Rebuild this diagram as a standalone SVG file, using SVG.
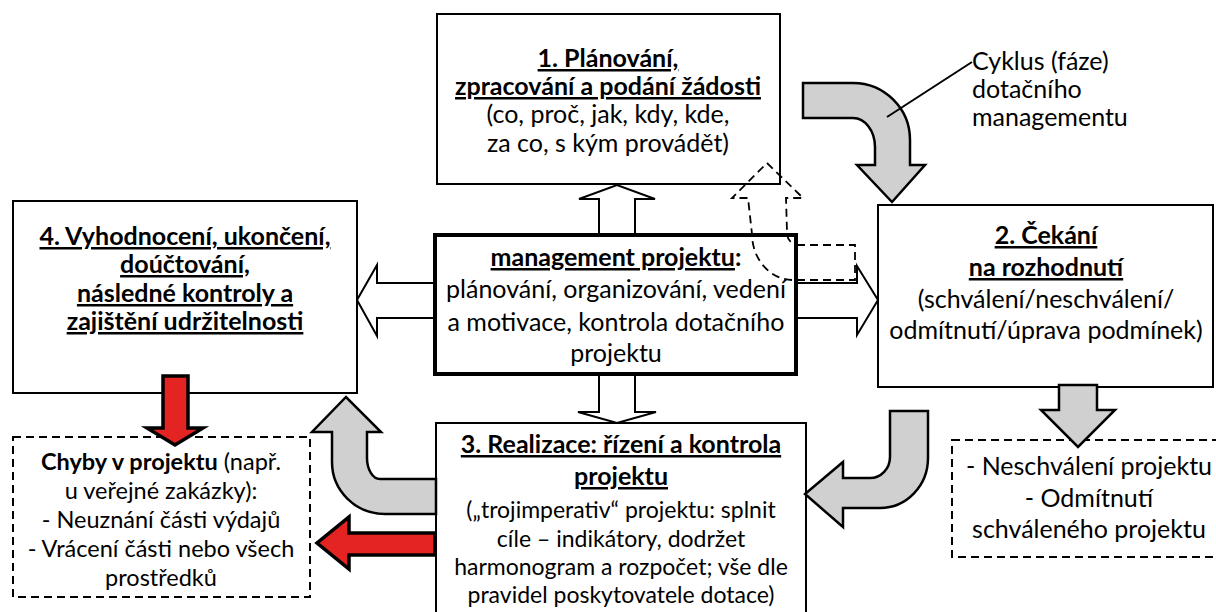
<svg xmlns="http://www.w3.org/2000/svg" width="1216" height="612" viewBox="0 0 1216 612">
  <style>
    text { font-family: Lato, "Liberation Sans", sans-serif; font-size: 25px; fill: #000; text-anchor: middle; }
    .b { font-weight: bold; }
    .u { text-decoration: underline; }
    .s { font-size: 23px; }
    .m { font-size: 23.5px; }
    .l { text-anchor: start; }
    .box { fill: #fff; stroke: #000; stroke-width: 2; }
    .main { fill: #fff; stroke: #000; stroke-width: 4; }
    .dash { fill: #fff; stroke: #000; stroke-width: 2; stroke-dasharray: 8 5; }
    .hollow { fill: #fff; stroke: #000; stroke-width: 2; stroke-linejoin: miter; }
    .grey { fill: #d0d0d0; stroke: #000; stroke-width: 2.5; stroke-linejoin: miter; }
    .red { fill: #e32422; stroke: #000; stroke-width: 3.5; stroke-linejoin: miter; }
    .dashline { fill: none; stroke: #000; stroke-width: 1.8; stroke-dasharray: 8 5; }
  </style>

  <!-- phase boxes -->
  <g id="phase1">
    <rect class="box" x="437" y="14" width="343" height="170"/>
    <text x="608" y="67" class="b u">1. Plánování,</text>
    <text x="608" y="95" class="b u">zpracování a podání žádosti</text>
    <text x="608" y="123">(co, proč, jak, kdy, kde,</text>
    <text x="608" y="152">za co, s kým provádět)</text>
  </g>

  <g id="phase2">
    <rect class="box" x="878" y="205" width="335" height="182"/>
    <text x="1046" y="244" class="b u">2. Čekání</text>
    <text x="1046" y="276" class="b u">na rozhodnutí</text>
    <text x="1046" y="308">(schválení/neschválení/</text>
    <text x="1046" y="339">odmítnutí/úprava podmínek)</text>
  </g>

  <g id="phase4">
    <rect class="box" x="13" y="201" width="344" height="192"/>
    <text x="185" y="245" class="b u">4. Vyhodnocení, ukončení,</text>
    <text x="185" y="273" class="b u">doúčtování,</text>
    <text x="185" y="302" class="b u">následné kontroly a</text>
    <text x="185" y="330" class="b u">zajištění udržitelnosti</text>
  </g>

  <g id="phase3">
    <rect class="box" x="436" y="423" width="370" height="200"/>
    <text x="621" y="453" class="b u">3. Realizace: řízení a kontrola</text>
    <text x="621" y="485" class="b u">projektu</text>
    <text x="621" y="518" class="s">(„trojimperativ“ projektu: splnit</text>
    <text x="621" y="547" class="s">cíle – indikátory, dodržet</text>
    <text x="621" y="575" class="s">harmonogram a rozpočet; vše dle</text>
    <text x="621" y="603" class="s">pravidel poskytovatele dotace)</text>
  </g>

  <g id="errors">
    <rect class="dash" x="13" y="437" width="297" height="160"/>
    <text x="161" y="470" class="m"><tspan class="b">Chyby v projektu</tspan> (např.</text>
    <text x="161" y="499" class="m">u veřejné zakázky):</text>
    <text x="161" y="528" class="m">- Neuznání části výdajů</text>
    <text x="161" y="557" class="m">- Vrácení části nebo všech</text>
    <text x="161" y="586" class="m">prostředků</text>
  </g>

  <g id="rejection">
    <rect class="dash" x="952" y="440" width="280" height="117"/>
    <text x="1089" y="475">- Neschválení projektu</text>
    <text x="1089" y="507">- Odmítnutí</text>
    <text x="1089" y="538">schváleného projektu</text>
  </g>

  <!-- connectors -->
  <g id="connectors">
    <!-- hollow arrows out of the management box -->
    <polygon class="hollow" points="599,236 599,199 579,199 617,185 655,199 635,199 635,236"/>
    <polygon class="hollow" points="599,373 599,412 578,412 617,423 656,412 635,412 635,373"/>
    <polygon class="hollow" points="436,283 377,283 377,265 357,300 377,336 377,318 436,318"/>
    <polygon class="hollow" points="795,283 857,283 857,266 878,300 857,335 857,318 795,318"/>

    <!-- grey cycle arrows -->
    <path class="grey" d="M803 83 L853 83 A57 57 0 0 1 910 140 L910 165 L925 165 L892 202 L857 165 L875 165 L875 147 A22 29 0 0 0 853 118 L803 118 Z"/>
    <path class="grey" d="M890 411 L928 411 L928 458 A48 50 0 0 1 880 508 L843 508 L843 527 L805 494 L843 462 L843 478 L870 478 A20 21 0 0 0 890 457 Z"/>
    <path class="grey" d="M436 479 L380 479 A13 21 0 0 1 367 458 L367 432 L381 432 L346 397 L312 432 L332 432 L332 462 A53 52 0 0 0 385 514 L436 514 Z"/>
    <polygon class="grey" points="1059,385 1059,410 1041,410 1078,447 1115,410 1097,410 1097,385"/>

    <!-- red error arrows -->
    <polygon class="red" points="163,376 163,428 147,428 175,445 203,428 188,428 188,376"/>
    <polygon class="red" points="435,533 349,533 349,517 317,543 349,569 349,555 435,555"/>
  </g>

  <g id="management">
    <rect class="main" x="435" y="235" width="361" height="139"/>
    <text x="616" y="266"><tspan class="b u">management projektu</tspan><tspan class="b">:</tspan></text>
    <text x="616" y="298">plánování, organizování, vedení</text>
    <text x="616" y="331">a motivace, kontrola dotačního</text>
    <text x="616" y="362">projektu</text>
  </g>

  <!-- optional return path back to phase 1 -->
  <g id="return-arrow">
    <path class="dashline" d="M797 245 L855 245 L855 280 L793 280 A41 46 0 0 1 752 234 L748 198 L732 198 L767 163 L803 198 L786 198 L787 232 A12 12 0 0 0 797 245 Z"/>
  </g>

  <g id="cycle-label">
    <line x1="887" y1="117" x2="972" y2="62" stroke="#000" stroke-width="2"/>
    <text x="972" y="70" class="l">Cyklus (fáze)</text>
    <text x="972" y="98" class="l">dotačního</text>
    <text x="972" y="126" class="l">managementu</text>
  </g>
</svg>
